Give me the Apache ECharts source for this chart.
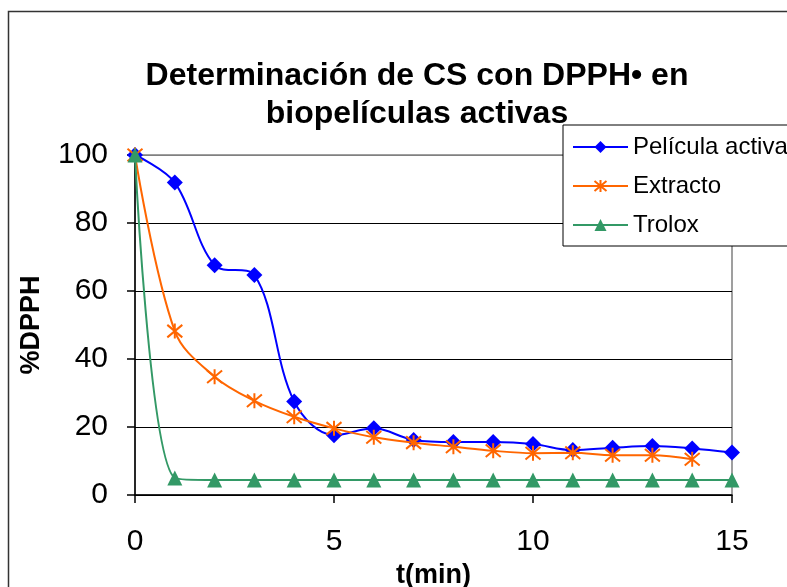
<!DOCTYPE html>
<html>
<head>
<meta charset="utf-8">
<script src="https://cdn.jsdelivr.net/npm/echarts@6/dist/echarts.min.js"></script>
<style>
  html, body { margin: 0; padding: 0; background: #fff; }
  #main { width: 787px; height: 587px; }
</style>
</head>
<body>
<div id="main"></div>
<script>
// minutes
var tiempo = [0, 1, 2, 3, 4, 5, 6, 7, 8, 9, 10, 11, 12, 13, 14, 15];
// %DPPH
var peliculaActiva = [100, 91.9, 67.6, 64.7, 27.5, 17.6, 19.6, 16.2, 15.6, 15.6, 15.0, 13.2, 13.9, 14.4, 13.7, 12.5];
var extracto = [100, 48.2, 34.8, 27.7, 23.0, 19.6, 17.0, 15.4, 14.2, 13.0, 12.3, 12.4, 11.7, 11.7, 10.5];
var trolox = [100, 5.0, 4.4, 4.4, 4.4, 4.4, 4.4, 4.4, 4.4, 4.4, 4.4, 4.4, 4.4, 4.4, 4.4, 4.4];
var yTicks = [0, 20, 40, 60, 80, 100];
var xTicks = [0, 5, 10, 15];

function pairs(vals) {
  return vals.map(function (v, i) { return [tiempo[i], v]; });
}

var asterisk = 'path://M0,0L10,10M10,0L0,10M5,-1L5,11';
var font = 'Liberation Sans, Arial, sans-serif';

var chartDom = document.getElementById('main');
var myChart = echarts.init(chartDom);

var option = {
  animation: false,
  textStyle: { fontFamily: font },
  title: {
    text: 'Determinación de CS con DPPH• en\nbiopelículas activas',
    left: 412,
    top: 52,
    textAlign: 'center',
    textStyle: { fontSize: 32, fontWeight: 'bold', color: '#000', lineHeight: 38, fontFamily: font }
  },
  legend: {
    orient: 'vertical',
    left: 563,
    top: 125,
    padding: [10, 40, 9, 9],
    itemWidth: 55,
    itemHeight: 15,
    itemGap: 15,
    borderColor: '#000',
    borderWidth: 1,
    backgroundColor: '#fff',
    textStyle: { fontSize: 24, color: '#000', lineHeight: 24, fontFamily: font },
    data: ['Película activa', 'Extracto', 'Trolox']
  },
  grid: {
    left: 135,
    right: 55,
    top: 155,
    bottom: 92,
    show: true,
    borderColor: '#808080',
    borderWidth: 1.5,
    containLabel: false,
    outerBoundsMode: 'none'
  },
  graphic: [{
    type: 'rect',
    shape: { x: 8.5, y: 11.5, width: 800, height: 600 },
    style: { fill: null, stroke: '#333', lineWidth: 1.5 },
    silent: true,
    z: -1
  }],
  xAxis: {
    type: 'value',
    min: xTicks[0],
    max: xTicks[xTicks.length - 1],
    interval: 5,
    name: 't(min)',
    nameLocation: 'middle',
    nameGap: 64,
    nameTextStyle: { fontSize: 27, fontWeight: 'bold', color: '#000', fontFamily: font },
    axisLine: { show: true, lineStyle: { color: '#000', width: 1.5 } },
    axisTick: { show: true, length: 8, lineStyle: { color: '#000', width: 1.5 } },
    axisLabel: { fontSize: 30, color: '#000', margin: 32, fontFamily: font },
    splitLine: { show: false }
  },
  yAxis: {
    type: 'value',
    min: yTicks[0],
    max: yTicks[yTicks.length - 1],
    interval: 20,
    name: '%DPPH',
    nameLocation: 'middle',
    nameGap: 90,
    nameTextStyle: { fontSize: 27, fontWeight: 'bold', color: '#000', fontFamily: font },
    axisLine: { show: true, lineStyle: { color: '#000', width: 1.5 } },
    axisTick: { show: true, length: 8, lineStyle: { color: '#000', width: 1.5 } },
    axisLabel: { fontSize: 30, color: '#000', margin: 27, fontFamily: font },
    splitLine: { show: true, lineStyle: { color: ['#000', '#000', '#000', '#000', '#000', '#808080'], width: 1.2 } }
  },
  series: [
    {
      name: 'Película activa',
      type: 'line',
      smooth: 0.35,
      data: pairs(peliculaActiva),
      symbol: 'diamond',
      symbolSize: 16,
      lineStyle: { color: '#0000FF', width: 2 },
      itemStyle: { color: '#0000FF' },
      z: 3
    },
    {
      name: 'Extracto',
      type: 'line',
      smooth: 0.35,
      data: pairs(extracto),
      symbol: asterisk,
      symbolSize: 15,
      lineStyle: { color: '#FF6600', width: 2 },
      itemStyle: { color: '#FF6600', borderColor: '#FF6600', borderWidth: 2 },
      z: 4
    },
    {
      name: 'Trolox',
      type: 'line',
      smooth: 0.35,
      data: pairs(trolox),
      symbol: 'triangle',
      symbolSize: 15,
      lineStyle: { color: '#339966', width: 2 },
      itemStyle: { color: '#339966' },
      z: 5
    }
  ]
};

option && myChart.setOption(option);
</script>
</body>
</html>
